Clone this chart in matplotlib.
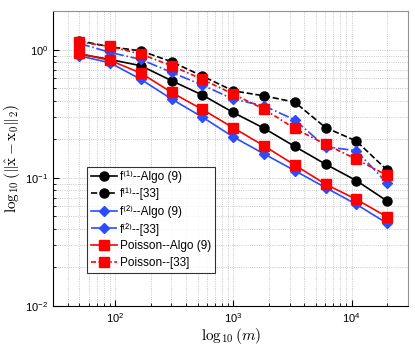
import numpy as np
import matplotlib
matplotlib.use('Agg')
import matplotlib.pyplot as plt

plt.rcParams['font.family'] = ['Liberation Sans', 'DejaVu Sans']
plt.rcParams['mathtext.fontset'] = 'cm'

# number of measurements
m = [50, 91, 166, 302, 549, 1000, 1820, 3310, 6030, 10980, 20000]

# reconstruction error per method
f1_algo = [0.925, 0.84, 0.75, 0.573, 0.443, 0.324, 0.244, 0.176, 0.128, 0.0953, 0.066]
f1_ref = [1.175, 1.055, 0.98, 0.806, 0.623, 0.478, 0.437, 0.39, 0.247, 0.194, 0.115]
f2_algo = [0.897, 0.791, 0.587, 0.412, 0.298, 0.209, 0.154, 0.114, 0.084, 0.0622, 0.0442]
f2_ref = [1.12, 0.954, 0.84, 0.665, 0.53, 0.412, 0.365, 0.284, 0.175, 0.163, 0.091]
pois_algo = [0.936, 0.826, 0.657, 0.464, 0.342, 0.246, 0.178, 0.126, 0.0893, 0.068, 0.0496]
pois_ref = [1.148, 1.062, 0.925, 0.75, 0.587, 0.451, 0.344, 0.243, 0.183, 0.14, 0.1045]

labels = ['f\u207d\u00b9\u207e--Algo (9)', 'f\u207d\u00b9\u207e--[33]',
          'f\u207d\u00b2\u207e--Algo (9)', 'f\u207d\u00b2\u207e--[33]',
          'Poisson--Algo (9)', 'Poisson--[33]']

blue = '#2b4cff'

fig = plt.figure(figsize=(4.15, 3.46), dpi=100)
ax = fig.add_axes([0.128, 0.1156, 0.855, 0.852])

ax.plot(m, f1_algo, '-', color='black', marker='o', ms=6.5, lw=1.2, label=labels[0])
ax.plot(m, f1_ref, '--', color='black', marker='o', ms=6.5, lw=1.2, label=labels[1])
ax.plot(m, f2_algo, '-', color=blue, marker='D', ms=5, lw=1.2, label=labels[2])
ax.plot(m, f2_ref, '-.', color=blue, marker='D', ms=5, lw=1.2, label=labels[3])
ax.plot(m, pois_algo, '-', color='red', marker='s', ms=6.5, lw=1.2, label=labels[4])
ax.plot(m, pois_ref, '-.', color='red', marker='s', ms=6.5, lw=1.2, label=labels[5],
        dashes=(3, 1.5, 1, 1.5))

ax.set_xscale('log')
ax.set_yscale('log')
ax.set_xlim(30, 30000)
ax.set_ylim(0.01, 2)

ax.grid(True, which='both', linestyle=':', color='#b8b8b8', lw=0.6)
ax.tick_params(which='both', direction='in', labelsize=8, top=False, right=False)
ax.tick_params(which='major', length=4)
ax.tick_params(which='minor', length=2)
for s in ['top', 'right']:
    ax.spines[s].set_color('#909090')

ax.set_xlabel(r'$\log_{10}(m)$', fontsize=11, labelpad=1)
ax.set_ylabel(r'$\log_{10}(\|\hat{\mathrm{x}}-\mathrm{x}_0\|_2)$', fontsize=11, labelpad=2)

leg = ax.legend(loc='upper left', bbox_to_anchor=(0.096, 0.471), fontsize=8.5,
                frameon=True, fancybox=False, edgecolor='black', handlelength=2.2,
                borderpad=0.3, labelspacing=0.4, handletextpad=0.3,
                borderaxespad=0)
leg.get_frame().set_linewidth(0.8)

fig.savefig('out.png', dpi=100)
